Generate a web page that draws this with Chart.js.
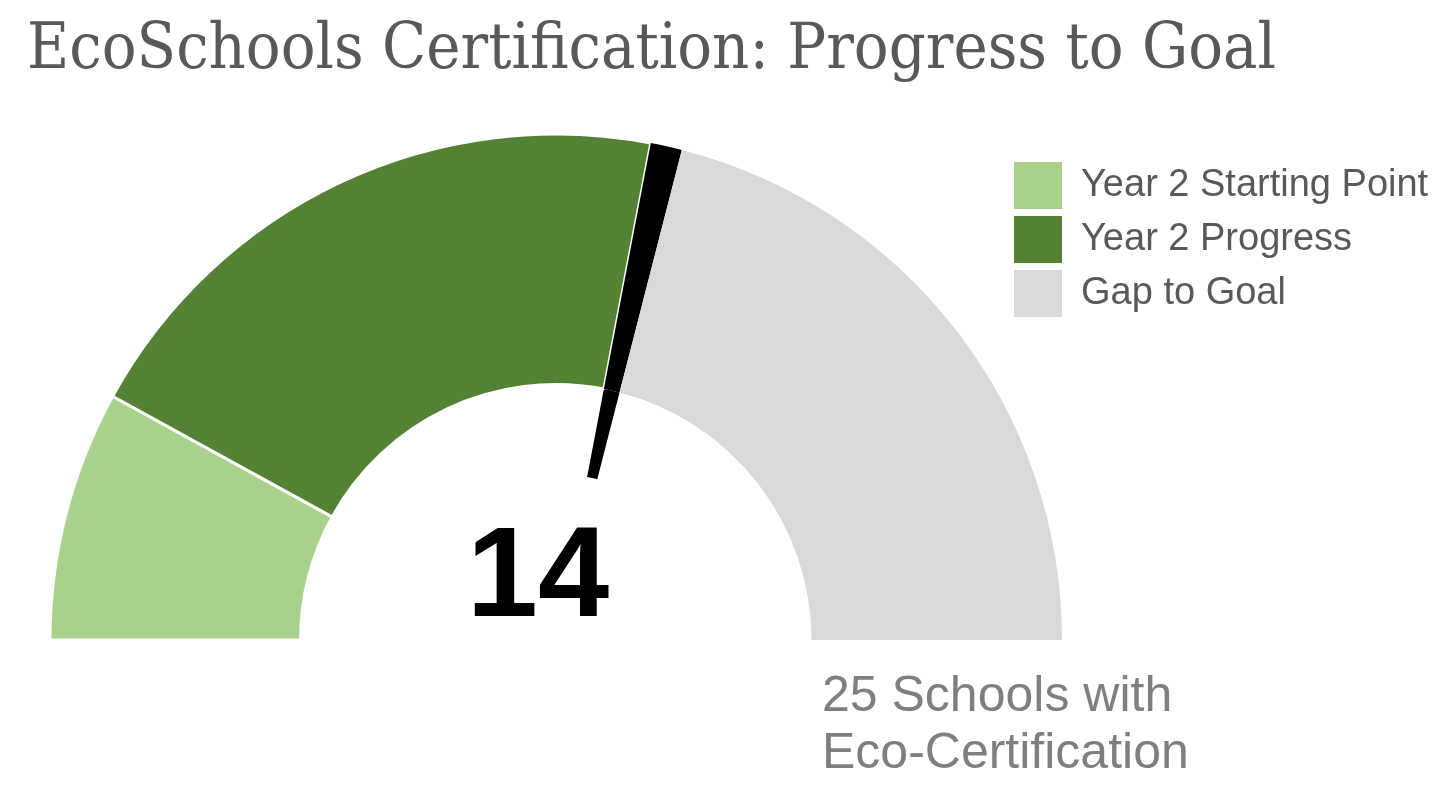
<!DOCTYPE html>
<html>
<head>
<meta charset="utf-8">
<title>EcoSchools Certification</title>
<script src="https://cdn.jsdelivr.net/npm/chart.js@4.4.1/dist/chart.umd.min.js"></script>
<style>
  html, body { margin: 0; padding: 0; background: #fff; }
  canvas { display: block; }
</style>
</head>
<body>
<canvas id="gauge" width="1448" height="801"></canvas>
<script>
const titleText = "EcoSchools Certification: Progress to Goal";
const categories = ["Year 2 Starting Point", "Year 2 Progress", "Gap to Goal"];
const values = [4, 10, 11];          // schools, adds up to the goal of 25
const colors = ["#a9d18e", "#548235", "#d9d9d9"];
const goalText = ["25 Schools with", "Eco-Certification"];
const needleWidth = 0.5;             // width of the black pointer slice, in schools

const current = values[0] + values[1];

const legendFont = { family: "'Liberation Sans', Arial, sans-serif", size: 38 };

// legend width, so the legend boxes start at x = 1014
const mctx = document.createElement("canvas").getContext("2d");
mctx.font = legendFont.size + "px " + legendFont.family;
const legendTextW = Math.max(...categories.map(c => mctx.measureText(c).width));
const legendW = 7 + 48 + legendFont.size / 2 + legendTextW + 10;

const none = "rgba(0,0,0,0)";

const textPlugin = {
	id: "gaugeText",
	afterDraw(chart) {
		const ctx = chart.ctx;
		const arc = chart.getDatasetMeta(0).data[0];

		// title
		ctx.save();
		ctx.font = "63px 'DejaVu Serif'";
		ctx.fillStyle = "#595959";
		ctx.textBaseline = "alphabetic";
		const w = ctx.measureText(titleText).width;
		ctx.translate(27, 68);
		ctx.scale(1249 / w, 1);
		ctx.fillText(titleText, 0, 0);
		ctx.restore();

		// value in the middle
		ctx.save();
		ctx.font = "bold 128px 'Liberation Sans', Arial, sans-serif";
		ctx.fillStyle = "#000";
		ctx.textAlign = "center";
		ctx.textBaseline = "alphabetic";
		ctx.fillText(String(current), arc.x - 18, 616);
		ctx.restore();

		// goal note
		ctx.save();
		ctx.font = "50px 'Liberation Sans', Arial, sans-serif";
		ctx.fillStyle = "#7f7f7f";
		ctx.textBaseline = "alphabetic";
		ctx.fillText(goalText[0], 822, 711);
		ctx.fillText(goalText[1], 822, 768);
		ctx.restore();
	}
};

const ctx = document.getElementById("gauge").getContext("2d");

let gauge = new Chart(ctx, {
	type: "doughnut",
	data: {
		labels: [categories[0], categories[1], "", categories[2]],
		datasets: [
			{
				data: [values[0], values[1], needleWidth, values[2] - needleWidth],
				backgroundColor: [colors[0], colors[1], "#000000", colors[2]],
				borderColor: "#ffffff",
				borderWidth: [3, 3, 0, 0],
				weight: 2.8,
			},
			{
				// inner part of the pointer
				data: [values[0], values[1], needleWidth, values[2] - needleWidth],
				backgroundColor: [none, none, "#000000", none],
				borderWidth: 0,
				weight: 1,
			},
		],
	},
	options: {
		responsive: false,
		animation: false,
		devicePixelRatio: 1,
		rotation: -90,
		circumference: 180,
		radius: 506,
		cutout: "32.8%",
		layout: {
			padding: { left: 105, top: 155, bottom: 182, right: 1448 - 1007 - legendW }
		},
		plugins: {
			tooltip: { enabled: false },
			legend: {
				position: "right",
				align: "start",
				labels: {
					boxWidth: 48,
					boxHeight: 47,
					padding: 7,
					color: "#595959",
					font: legendFont,
					generateLabels: (chart) =>
						Chart.overrides.doughnut.plugins.legend.labels.generateLabels(chart)
							.filter(item => item.text !== "")
							.map(item => Object.assign(item, { lineWidth: 0 })),
				}
			}
		}
	},
	plugins: [textPlugin]
});
</script>
</body>
</html>
